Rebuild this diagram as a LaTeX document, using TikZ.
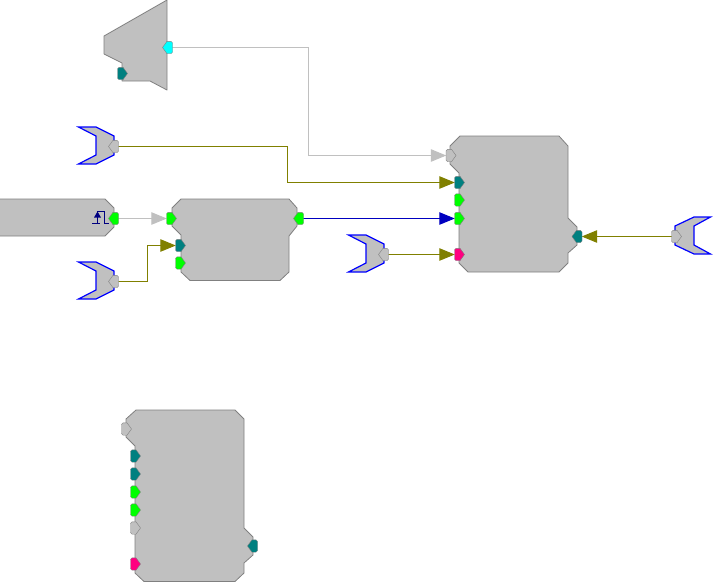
\documentclass[tikz,border=0pt]{standalone}
\usetikzlibrary{arrows.meta}
\pgfdeclarelayer{portlayer}
\pgfsetlayers{main,portlayer}
\definecolor{blockgray}{HTML}{C0C0C0}
\definecolor{edgegray}{HTML}{808080}
\definecolor{olivewire}{HTML}{808000}
\definecolor{bluewire}{HTML}{0000C0}
\definecolor{tealport}{HTML}{008080}
\definecolor{greenport}{HTML}{00FF00}
\definecolor{pinkport}{HTML}{FF0080}
\definecolor{cyanport}{HTML}{00FFFF}
\definecolor{glyphnavy}{HTML}{000080}
\tikzset{
  block/.style={fill=blockgray,draw=edgegray,line width=0.8pt,line join=round},
  horseshoe/.style={fill=blockgray,draw=blue,line width=1.2pt,line join=miter},
  wire/.style={line width=1pt},
  graywire/.style={wire,draw=blockgray},
  olivew/.style={wire,draw=olivewire},
  bluew/.style={wire,draw=bluewire},
  portanchor/.style={inner sep=0pt,minimum width=9pt,minimum height=12pt,draw=none,fill=none},
  portedge/.style={line width=0.4pt,draw=edgegray},
}
% port pointing right: flat side on the left
\newcommand{\portR}[4]{%
  \begin{pgfonlayer}{portlayer}
  \fill[#4,portedge,shift={(#2,#3)}] (-5,-4.5) -- (-3.5,-6.2) -- (0.5,-6.2) -- (5,0) -- (0.5,6.2) -- (-3.5,6.2) -- (-5,4.5) -- cycle;
  \end{pgfonlayer}
  \node[portanchor] (#1) at (#2,#3) {};}
% port pointing left: flat side on the right
\newcommand{\portL}[4]{%
  \begin{pgfonlayer}{portlayer}
  \fill[#4,portedge,shift={(#2,#3)}] (5,-4.5) -- (3.5,-6.2) -- (-0.5,-6.2) -- (-5,0) -- (-0.5,6.2) -- (3.5,6.2) -- (5,4.5) -- cycle;
  \end{pgfonlayer}
  \node[portanchor] (#1) at (#2,#3) {};}
% horseshoe input, opening to the left
\newcommand{\shoeL}[2]{%
  \draw[horseshoe,shift={(#1,#2)}] (1.5,0) -- (19,0) -- (37,9) -- (37,28) -- (19,37) -- (1.5,37) -- (19,28) -- (19,9) -- cycle;}
\newcommand{\shoeR}[2]{%
  \draw[horseshoe,shift={(#1,#2)}] (-1.5,0) -- (-18,0) -- (-37,9) -- (-37,28) -- (-18,37) -- (-1.5,37) -- (-18,28) -- (-18,9) -- cycle;}
\begin{document}
\begin{tikzpicture}[x=1pt,y=-1pt]
\useasboundingbox (0,0) rectangle (713,582);

% blocks
\draw[block] (167,0) -- (167,90) -- (150,81) -- (122,81) -- (122,63) -- (104,54) -- (104,36) -- cycle;
\draw[block] (0,199) -- (105,199) -- (114,208) -- (114,227) -- (105,236) -- (0,236);
\draw[block] (181,199) -- (289,199) -- (297,208) -- (297,226) -- (289,236) -- (289,272) -- (280,280.5) -- (190,280.5) -- (181,272) -- (181,235) -- (172,226) -- (172,208) -- cycle;
\draw[block] (460,136) -- (559,136) -- (568,146) -- (568,218) -- (577,227) -- (577,245) -- (568,253) -- (568,263) -- (559,272) -- (468,272) -- (459,263) -- (459,173) -- (450,164) -- (450,146) -- cycle;
\draw[block] (136,410) -- (235,410) -- (244,419) -- (244,528) -- (253,537) -- (253,555) -- (244,563) -- (244,573) -- (235,581.5) -- (144,581.5) -- (135,573) -- (135,446) -- (126,437) -- (126,419) -- cycle;

\shoeL{77}{127}
\shoeL{77}{262}
\shoeL{347}{235}
\shoeR{712}{217}

% ports
\portL{mixout}{167.5}{47.5}{cyanport}
\portR{mixin}{122.5}{73.5}{tealport}
\portL{shoeA}{113.5}{146.5}{blockgray}
\portL{shoeB}{113.5}{281.5}{blockgray}
\portL{shoeC}{383.5}{254.5}{blockgray}
\portR{shoeD}{676.5}{236.5}{blockgray}
\portL{srcout}{113.5}{218.5}{greenport}
\portR{midA}{171.5}{218.5}{greenport}
\portR{midB}{180.5}{245.5}{tealport}
\portR{midC}{180.5}{263}{greenport}
\portL{midout}{298.5}{218.5}{greenport}
\portR{bigA}{451}{155.5}{blockgray}
\portR{bigB}{459.5}{182.5}{tealport}
\portR{bigC}{459.5}{200}{greenport}
\portR{bigD}{459.5}{218.5}{greenport}
\portR{bigE}{459.5}{254.5}{pinkport}
\portL{bigout}{577}{236.5}{tealport}
\portR{lowA}{126.5}{429}{blockgray}
\portR{lowB}{135.5}{456}{tealport}
\portR{lowC}{135.5}{474}{tealport}
\portR{lowD}{135.5}{492}{greenport}
\portR{lowE}{135.5}{510}{greenport}
\portR{lowF}{135.5}{528}{blockgray}
\portR{lowG}{135.5}{564}{pinkport}
\portL{lowout}{252.5}{546}{tealport}

% pulse glyph
\draw[glyphnavy,line width=1.2pt] (92,223.5) -- (100,223.5) (97.5,223.5) -- (97.5,211.5) -- (104.5,211.5) -- (104.5,223.5) -- (109,223.5);
\fill[glyphnavy] (97.5,211.5) -- (101,217.5) -- (94,217.5) -- cycle;

% connectors
\coordinate (bendA) at (308.5,100);
\coordinate (bendB) at (287.5,160);
\coordinate (bendC) at (147.5,260);
\draw[graywire,-{Triangle[length=15.5pt,width=12.5pt,fill=blockgray]}] (mixout.east) -| (bendA) |- (bigA.west);
\draw[olivew,-{Triangle[length=15.5pt,width=12.5pt,fill=olivewire]}] (shoeA.east) -| (bendB) |- (bigB.west);
\draw[graywire,-{Triangle[length=15.5pt,width=12.5pt,fill=blockgray]}] (srcout.east) -- (midA.west);
\draw[olivew,-{Triangle[length=15.5pt,width=12.5pt,fill=olivewire]}] (shoeB.east) -| (bendC) |- (midB.west);
\draw[bluew,-{Triangle[length=15.5pt,width=12.5pt,fill=bluewire]}] (midout.east) -- (bigD.west);
\draw[olivew,-{Triangle[length=15.5pt,width=12.5pt,fill=olivewire]}] (shoeC.east) -- (bigE.west);
\draw[olivew,-{Triangle[length=15.5pt,width=12.5pt,fill=olivewire]}] (shoeD.west) -- (bigout.east);
\end{tikzpicture}
\end{document}
